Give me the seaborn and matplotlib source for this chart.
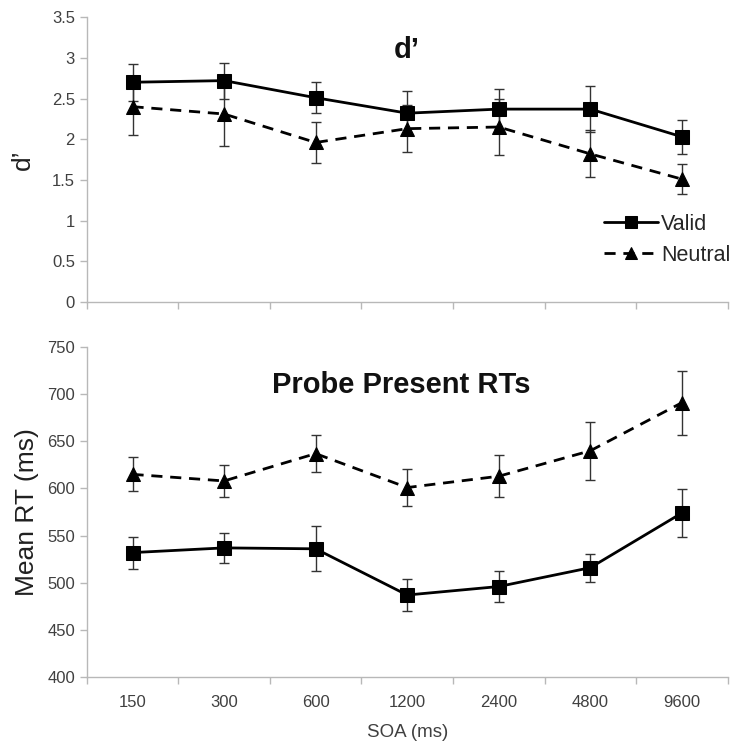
import numpy as np
import pandas as pd
import matplotlib
matplotlib.use("Agg")
import matplotlib.pyplot as plt
import seaborn as sns

soa_labels = ["150", "300", "600", "1200", "2400", "4800", "9600"]

dprime_valid = [2.70, 2.72, 2.51, 2.32, 2.37, 2.37, 2.03]
dprime_valid_err = [0.23, 0.22, 0.19, 0.27, 0.25, 0.28, 0.21]
dprime_neutral = [2.40, 2.31, 1.96, 2.13, 2.15, 1.82, 1.51]
dprime_neutral_err = [0.35, 0.39, 0.25, 0.29, 0.34, 0.29, 0.18]

rt_valid = [532, 537, 536, 487, 496, 516, 574]
rt_valid_err = [17, 16, 24, 17, 16, 15, 25]
rt_neutral = [615, 608, 637, 601, 613, 640, 691]
rt_neutral_err = [18, 17, 20, 20, 22, 31, 34]

sns.set_theme(style="white")
plt.rcParams['font.family'] = ['Liberation Sans', 'DejaVu Sans']

fig = plt.figure(figsize=(7.35, 7.44), dpi=100)
ax1 = fig.add_axes([0.118, 0.594, 0.872, 0.383])
ax2 = fig.add_axes([0.118, 0.090, 0.872, 0.4435])

spine_col = "#b8b8b8"
tick_col = "#404040"
x = np.arange(len(soa_labels))


def draw(ax, valid, verr, neutral, nerr):
    df = pd.DataFrame({
        "x": np.concatenate([x, x]),
        "y": list(valid) + list(neutral),
        "cond": ["Valid"] * len(x) + ["Neutral"] * len(x),
    })
    ax.errorbar(x, valid, yerr=verr, fmt="none", ecolor="#333333",
                elinewidth=1.0, capsize=3.5, capthick=1.0, zorder=2)
    ax.errorbar(x, neutral, yerr=nerr, fmt="none", ecolor="#333333",
                elinewidth=1.0, capsize=3.5, capthick=1.0, zorder=2)
    sns.lineplot(data=df, x="x", y="y", hue="cond", style="cond",
                 palette={"Valid": "black", "Neutral": "black"},
                 markers={"Valid": "s", "Neutral": "^"},
                 dashes={"Valid": "", "Neutral": (4, 2.8)},
                 markersize=10, linewidth=2.0, markeredgecolor="black",
                 ax=ax, legend=True, zorder=3)
    ax.set_xlim(-0.5, len(x) - 0.5)
    ax.set_xticks(np.arange(len(x) + 1) - 0.5)
    ax.set_xticklabels([])
    ax.set_xticks(x, minor=True)
    ax.tick_params(axis="x", which="major", direction="out", length=5,
                   color=spine_col, width=1, bottom=True)
    ax.tick_params(axis="x", which="minor", length=0, bottom=False)
    ax.tick_params(axis="y", direction="out", length=5, color=spine_col,
                   width=1, left=True, labelsize=12, labelcolor=tick_col)
    for s in ["top", "right"]:
        ax.spines[s].set_visible(False)
    for s in ["left", "bottom"]:
        ax.spines[s].set_color(spine_col)
        ax.spines[s].set_linewidth(1.0)
    ax.set_xlabel("")


draw(ax1, dprime_valid, dprime_valid_err, dprime_neutral, dprime_neutral_err)
draw(ax2, rt_valid, rt_valid_err, rt_neutral, rt_neutral_err)

ax1.set_ylim(0, 3.5)
ax1.set_yticks(np.arange(0, 3.51, 0.5))
ax1.set_yticklabels(["0", "0.5", "1", "1.5", "2", "2.5", "3", "3.5"])
ax1.set_ylabel("d’", fontsize=19, color="#202020", labelpad=12)
ax1.text(0.5, 0.885, "d’", transform=ax1.transAxes, ha="center", va="center",
         fontsize=21, fontweight="bold", color="#111111")
handles, labels = ax1.get_legend_handles_labels()
leg = ax1.legend(handles, labels, loc="lower right", bbox_to_anchor=(1.035, 0.06),
                 frameon=False, fontsize=15.5, handlelength=2.5, handletextpad=0.15,
                 labelspacing=0.45, markerscale=0.8)

ax2.set_ylim(400, 750)
ax2.set_yticks(np.arange(400, 751, 50))
ax2.set_ylabel("Mean RT (ms)", fontsize=19, color="#202020", labelpad=6)
ax2.text(0.49, 0.885, "Probe Present RTs", transform=ax2.transAxes, ha="center",
         va="center", fontsize=21, fontweight="bold", color="#111111")
ax2.legend_.remove()
ax2.set_xticks(x, minor=True)
ax2.set_xticklabels(soa_labels, minor=True)
ax2.tick_params(axis="x", which="minor", labelsize=12, labelcolor=tick_col, pad=13)
ax2.set_xlabel("SOA (ms)", fontsize=13.5, color=tick_col, labelpad=10)

fig.savefig("out.png", dpi=100, facecolor="white")
